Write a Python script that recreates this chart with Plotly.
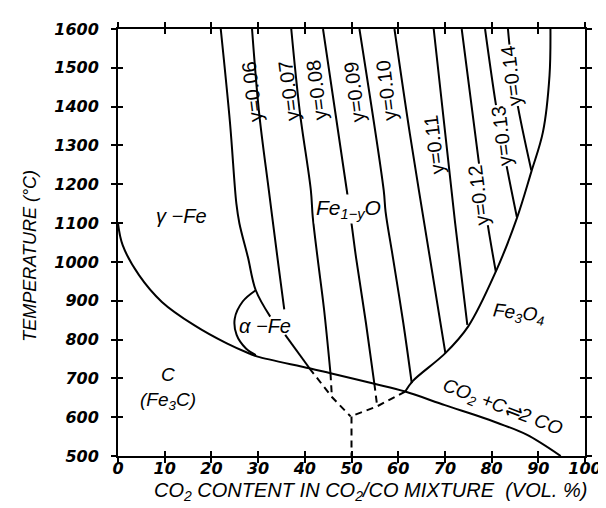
import plotly.graph_objects as go

# ---------------- data ----------------
x_ticks = list(range(0, 101, 10))
t_ticks = list(range(500, 1601, 100))

# Boudouard equilibrium CO2 + C = 2 CO
boud_x = [0, 1.0, 4.5, 9.4, 16.3, 23.3, 28.1, 29.9, 41.0, 45.5, 54.9, 61.5, 70.0, 77.1, 81.3, 87.5, 94.8]
boud_T = [1099, 1043, 966, 897, 837, 790, 764, 756, 726, 713, 686, 666, 631, 603, 585, 555, 500]

# alpha-Fe loop
alpha_x = [29.5, 26.7, 25.0, 25.4, 27.4, 29.5]
alpha_T = [927, 898, 854, 812, 777, 760]

# Fe / Fe1-yO boundary (upper part) and lower continuation
fe_x = [22.0, 24.0, 25.35, 26.0, 27.8, 29.5, 32.6]
fe_T = [1600, 1356, 1150, 1099, 1013, 927, 859]
fe_low_x = [35.8, 41.0]
fe_low_T = [812, 726]
fe_meta_x = [41.0, 45.8, 49.8]
fe_meta_T = [726, 652, 602]

# iso-y lines in Fe1-yO field
y06_x = [28.7, 30.2, 32.3, 34.4, 35.6]
y06_T = [1600, 1386, 1184, 987, 878]
y07_x = [37.1, 38.9, 41.3, 41.7, 42.75, 44.1, 45.5]
y07_T = [1600, 1390, 1184, 1116, 1009, 880, 713]
y07_meta_x = [45.5, 45.8]
y07_meta_T = [713, 652]
y08_x = [43.9, 49.0, 50.0, 51.0, 53.1, 54.9]
y08_T = [1600, 1184, 1099, 1009, 842, 686]
y08_meta_x = [54.9, 55.5]
y08_meta_T = [686, 628]
y09_x = [51.7, 56.9, 57.3, 58.9, 61.1, 62.9]
y09_T = [1600, 1184, 1129, 1009, 842, 688]
y10_x = [59.2, 62.5, 66.7, 70.1]
y10_T = [1600, 1330, 1017, 765]
y11_x = [67.6, 72.2, 74.8]
y11_T = [1600, 1099, 838]
y12_x = [73.6, 77.4, 79.2, 80.9]
y12_T = [1600, 1244, 1094, 975]
y13_x = [78.6, 80.9, 83.0, 85.4]
y13_T = [1600, 1407, 1261, 1116]
y14_x = [83.5, 84.0, 85.4, 88.5]
y14_T = [1600, 1540, 1416, 1236]

# Fe1-yO / Fe3O4 boundary
mag_x = [92.6, 92.4, 91.0, 88.5, 85.4, 80.9, 75.0, 70.1, 63.1, 61.5]
mag_T = [1600, 1480, 1335, 1232, 1112, 975, 834, 765, 693, 666]
mag_meta_x = [61.5, 55.5, 49.8]
mag_meta_T = [666, 628, 602]

# metastable vertical below triple point
vert_x = [50, 50]
vert_T = [602, 500]

iso_labels = ['y=0.06', 'y=0.07', 'y=0.08', 'y=0.09', 'y=0.10', 'y=0.11', 'y=0.12', 'y=0.13', 'y=0.14']
iso_label_x = [28.6, 36.5, 42.5, 50.5, 57.4, 67.6, 77.1, 82.1, 84.2]
iso_label_T = [1439, 1441, 1443, 1439, 1441, 1302, 1171, 1325, 1479]
iso_inline = [False, False, False, False, False, False, True, True, True]

# ---------------- figure ----------------
fig = go.Figure()


def add(x, y, dash='solid', shape='linear'):
    fig.add_trace(go.Scatter(
        x=x, y=y, mode='lines', showlegend=False, hoverinfo='skip',
        line=dict(color='black', width=2, dash=dash, shape=shape, smoothing=1.0)))


DASH = '7px,5px'
add(boud_x, boud_T, shape='spline')
add(alpha_x, alpha_T, shape='spline')
add(fe_x, fe_T, shape='spline')
add(fe_low_x, fe_low_T)
add(fe_meta_x, fe_meta_T, dash=DASH)
for xs, ts in [(y06_x, y06_T), (y07_x, y07_T), (y08_x, y08_T), (y09_x, y09_T),
               (y10_x, y10_T), (y11_x, y11_T), (y12_x, y12_T), (y13_x, y13_T),
               (y14_x, y14_T)]:
    add(xs, ts, shape='spline')
add(y07_meta_x, y07_meta_T, dash=DASH)
add(y08_meta_x, y08_meta_T, dash=DASH)
add(mag_x, mag_T, shape='spline')
add(mag_meta_x, mag_meta_T, dash=DASH)
add(vert_x, vert_T, dash=DASH)

# dummy trace for the overlay axes (inside half of the crossing ticks)
fig.add_trace(go.Scatter(x=[None], y=[None], xaxis='x2', yaxis='y2',
                         showlegend=False, hoverinfo='skip'))

TICKFONT = dict(family='DejaVu Sans', size=16, color='black', style='italic', weight='bold')
LBL = dict(family='Liberation Sans', size=20, color='black', style='italic')
NARROW = dict(family='Liberation Sans Narrow, Liberation Sans', size=20, color='black')

ann = []
for t, ax_, at_, inl in zip(iso_labels, iso_label_x, iso_label_T, iso_inline):
    a = dict(x=ax_, y=at_, xref='x', yref='y', text=t, showarrow=False,
             textangle=-97, font=NARROW, borderpad=0)
    if inl:
        a['bgcolor'] = 'white'
    ann.append(a)

ann += [
    dict(x=13.5, y=1117, text='γ −Fe', font=dict(LBL, size=20)),
    dict(x=49.3, y=1137, text='Fe<sub>1−y</sub>O', font=dict(LBL, size=21),
         bgcolor='white', borderpad=1),
    dict(x=31.4, y=834, text='α −Fe', font=dict(LBL, size=20)),
    dict(x=85.8, y=867, text='Fe<sub>3</sub>O<sub>4</sub>', font=dict(LBL, size=19), textangle=6),
    dict(x=10.8, y=675, text='C<br>(Fe<sub>3</sub>C)', font=dict(LBL, size=19)),
    dict(x=82.3, y=623, text='CO<sub>2</sub> +C⇌2 CO', font=dict(LBL, size=19), textangle=21),
]
for a in ann[len(iso_labels):]:
    a.update(xref='x', yref='y', showarrow=False)

ann += [
    dict(x=-0.1875, y=0.47, xref='paper', yref='paper', showarrow=False,
         xanchor='center', yanchor='middle',
         text='TEMPERATURE (°C)', textangle=-90,
         font=dict(family='Liberation Sans Narrow, Liberation Sans', size=18,
                   color='black', style='italic')),
    dict(x=0.54, y=-0.084, xref='paper', yref='paper', showarrow=False,
         xanchor='center', yanchor='middle',
         text='CO<sub>2</sub> CONTENT IN CO<sub>2</sub>/CO MIXTURE  (VOL. %)',
         font=dict(family='Liberation Sans', size=20, color='black', style='italic')),
]

axis_common = dict(showgrid=False, zeroline=False, showline=True, linecolor='black',
                   linewidth=2, ticks='outside', ticklen=5, tickwidth=1.5,
                   tickcolor='black', mirror='ticks')

fig.update_layout(
    width=606, height=508,
    margin=dict(l=110, r=16, t=20, b=60),
    paper_bgcolor='white', plot_bgcolor='white',
    showlegend=False,
    xaxis=dict(axis_common, range=[0, 100], tickvals=x_ticks,
               ticktext=[str(v) for v in x_ticks], tickfont=TICKFONT,
               ticklabelstandoff=-8),
    yaxis=dict(axis_common, range=[500, 1600], tickvals=t_ticks,
               ticktext=[str(v) for v in t_ticks], tickfont=TICKFONT,
               ticklabelstandoff=9),
    xaxis2=dict(overlaying='x', anchor='y2', range=[0, 100], tickvals=x_ticks,
                showticklabels=False, ticks='inside', ticklen=5, tickwidth=1.5,
                tickcolor='black', mirror='ticks', showline=True, linecolor='black',
                linewidth=2, showgrid=False, zeroline=False),
    yaxis2=dict(overlaying='y', anchor='x2', range=[500, 1600], tickvals=t_ticks,
                showticklabels=False, ticks='inside', ticklen=5, tickwidth=1.5,
                tickcolor='black', mirror='ticks', showline=True, linecolor='black',
                linewidth=2, showgrid=False, zeroline=False),
    annotations=ann,
)

fig.write_html('out.html')
